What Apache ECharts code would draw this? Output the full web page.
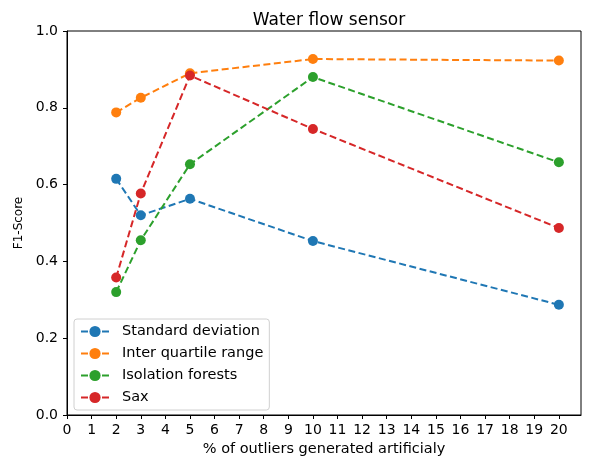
<!DOCTYPE html>
<html>
<head>
<meta charset="utf-8">
<script src="https://cdn.jsdelivr.net/npm/echarts@6/dist/echarts.min.js"></script>
<style>
    html, body { margin: 0; padding: 0; background: #fff; }
    #chart1 { width: 589px; height: 462px; }
</style>
</head>
<body>
<div id="chart1"></div>
<script>
// percent of outliers generated
var outlierPct = [2, 3, 5, 10, 20];
var stdDev = [0.615, 0.520, 0.563, 0.453, 0.287];
var interQuartile = [0.788, 0.826, 0.890, 0.927, 0.923];
var isolationForest = [0.320, 0.455, 0.653, 0.880, 0.658];
var sax = [0.358, 0.577, 0.884, 0.745, 0.487];
var xTicks = [0, 1, 2, 3, 4, 5, 6, 7, 8, 9, 10, 11, 12, 13, 14, 15, 16, 17, 18, 19, 20];

var seriesNames = ["Standard deviation", "Inter quartile range", "Isolation forests", "Sax"];
var seriesValues = [stdDev, interQuartile, isolationForest, sax];
var colors = ['#1f77b4', '#ff7f0e', '#2ca02c', '#d62728'];

var pairs = function (ys) {
    var out = [];
    for (var i = 0; i < outlierPct.length; i++) {
        out.push([outlierPct[i], ys[i]]);
    }
    return out;
};

var myChart = echarts.init(document.getElementById("chart1"));
var series = [];
for (var i = 0; i < seriesNames.length; i++) {
    series.push({
        name: seriesNames[i],
        type: 'line',
        data: pairs(seriesValues[i]),
        symbol: 'circle',
        symbolSize: 10,
        lineStyle: { type: [7, 3.5], width: 2, color: colors[i] },
        itemStyle: { color: colors[i] },
        animation: false
    });
}

var option = {
    textStyle: { fontFamily: 'DejaVu Sans' },
    color: colors,
    title: {
        text: 'Water flow sensor',
        left: 324,
        top: 7,
        textAlign: 'center',
        textStyle: { fontSize: 17, fontWeight: 'normal', color: '#000', fontFamily: 'DejaVu Sans' }
    },
    grid: {
        left: 67, right: 8, top: 31, bottom: 44,
        show: true, borderColor: '#000', borderWidth: 1, backgroundColor: '#fff'
    },
    legend: {
        orient: 'vertical',
        left: 74,
        top: 319,
        padding: [5, 6, 5, 6],
        itemGap: 7,
        itemWidth: 28,
        itemHeight: 14,
        backgroundColor: '#fff',
        borderColor: '#d0d0d0',
        borderWidth: 1,
        borderRadius: 3,
        textStyle: { fontSize: 14.5, color: '#000', fontFamily: 'DejaVu Sans', padding: [0, 0, 0, 8] },
        data: seriesNames
    },
    xAxis: {
        type: 'value',
        min: 0,
        max: 20.9,
        name: '% of outliers generated artificialy',
        nameLocation: 'middle',
        nameGap: 27,
        nameTextStyle: { fontSize: 14.5, color: '#000' },
        splitLine: { show: false },
        axisLine: { lineStyle: { color: '#000' } },
        axisTick: { show: true, length: 4, lineStyle: { color: '#000' }, customValues: xTicks },
        axisLabel: { fontSize: 14, color: '#000', margin: 8, customValues: xTicks }
    },
    yAxis: {
        type: 'value',
        min: 0,
        max: 1,
        interval: 0.2,
        name: 'F1-Score',
        nameLocation: 'middle',
        nameGap: 42,
        nameTextStyle: { fontSize: 12, color: '#000' },
        splitLine: { show: false },
        axisLine: { show: true, lineStyle: { color: '#000' } },
        axisTick: { show: true, length: 4, lineStyle: { color: '#000' } },
        axisLabel: {
            fontSize: 14, color: '#000', margin: 9,
            formatter: function (v) { return v.toFixed(1); }
        }
    },
    series: series
};
myChart.setOption(option);
</script>
</body>
</html>
